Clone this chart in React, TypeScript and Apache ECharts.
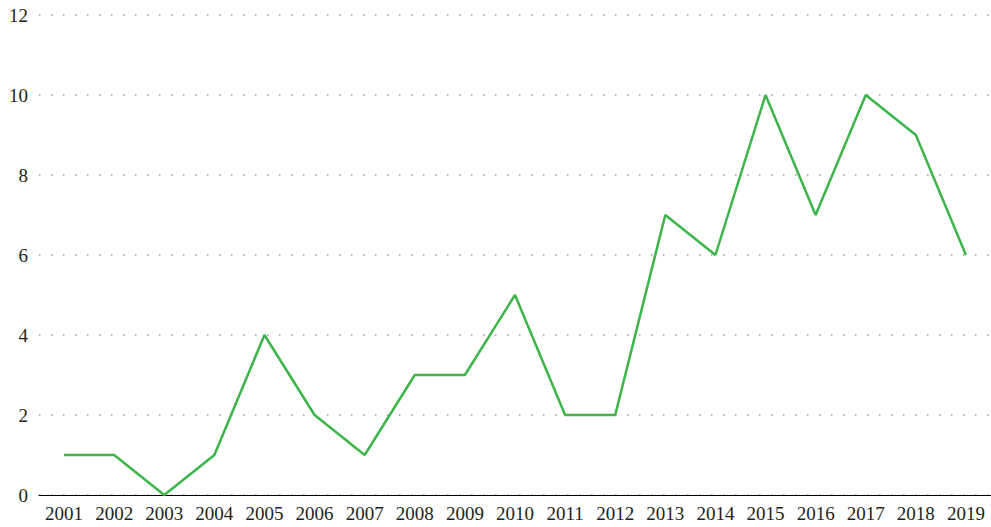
import React, { useEffect, useRef } from "react";
import * as echarts from "echarts";

const years = ["2001","2002","2003","2004","2005","2006","2007","2008","2009","2010","2011","2012","2013","2014","2015","2016","2017","2018","2019"];
const counts = [1, 1, 0, 1, 4, 2, 1, 3, 3, 5, 2, 2, 7, 6, 10, 7, 10, 9, 6];
const yMin = 0;
const yMax = 12;
const yStep = 2;

export default function App() {
  const ref = useRef<HTMLDivElement>(null);
  useEffect(() => {
    if (!ref.current) return;
    const chart = echarts.init(ref.current, null, { renderer: "svg" });
    const font = "'Liberation Serif', 'DejaVu Serif', serif";
    chart.setOption({
      animation: false,
      backgroundColor: "#ffffff",
      grid: { left: 39, top: 15, bottom: 32, width: 953 },
      xAxis: {
        type: "category",
        data: years,
        boundaryGap: true,
        axisLine: { show: true, lineStyle: { color: "#000", width: 1 } },
        axisTick: { show: false },
        axisLabel: { color: "#231f20", fontSize: 19, fontFamily: font, margin: 9, interval: 0 },
        splitLine: { show: false },
      },
      yAxis: {
        type: "value",
        min: yMin,
        max: yMax,
        interval: yStep,
        axisLine: { show: false },
        axisTick: { show: false },
        axisLabel: { color: "#231f20", fontSize: 19, fontFamily: font, margin: 11 },
        splitLine: { show: true, lineStyle: { color: "#999", width: 1.5, type: [1.5, 10.5] } },
      },
      series: [
        {
          type: "line",
          data: counts,
          symbol: "none",
          lineStyle: { color: "#3db54a", width: 2.5 },
          z: 3,
        },
      ],
    });
    return () => chart.dispose();
  }, []);
  return <div ref={ref} style={{ width: 991, height: 527, position: "absolute", left: 0, top: 0 }} />;
}
